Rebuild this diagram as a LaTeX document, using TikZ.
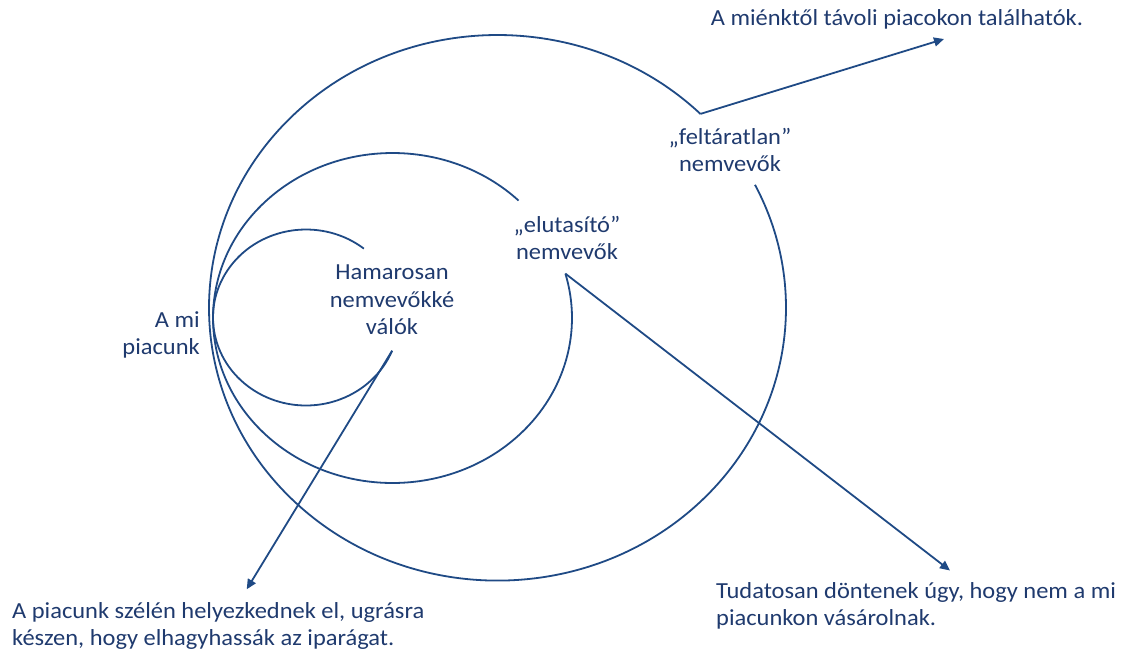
\documentclass[tikz,border=0pt]{standalone}
\usepackage{fontspec}
\setmainfont{Carlito}[FakeStretch=1.063]
\usetikzlibrary{arrows.meta}
\definecolor{ringblue}{HTML}{1F4A85}
\definecolor{labelblue}{HTML}{1F3A6E}
\begin{document}
\begin{tikzpicture}[x=1pt, y=-1pt,
  ring/.style={draw=ringblue, line width=1.8pt},
  pointer/.style={draw=ringblue, line width=1.8pt, -{Triangle[length=10pt,width=9pt]}},
  txt/.style={text=labelblue, font=\fontsize{23}{27.5}\selectfont, inner sep=0pt, align=center},
  txtl/.style={txt, align=left},
  txtr/.style={txt, align=right}]
\useasboundingbox (0,0) rectangle (1127,654);

% centres of the three open rings, all touching at the left
\coordinate (cS) at (306,317.5);
\coordinate (cM) at (392.5,318);
\coordinate (cL) at (497.5,307.8);

% small ring
\draw[ring] (cS) ++(51.5:93pt and 88pt) coordinate (sA)
  arc[start angle=51.5, end angle=337.8, x radius=93pt, y radius=88pt] coordinate (sB);
% middle ring
\draw[ring] (cM) ++(45.4:179.5pt and 165pt) coordinate (mA)
  arc[start angle=45.4, end angle=375.6, x radius=179.5pt, y radius=165pt] coordinate (mB);
% large ring
\draw[ring] (cL) ++(45.3:288.5pt and 272.8pt) coordinate (lA)
  arc[start angle=45.3, end angle=386.8, x radius=288.5pt, y radius=272.8pt] coordinate (lB);

% labels
\node[txtr, anchor=east] (market) at (200,335) {A mi\\piacunk};
\node[txt] (soon) at (392,300) {Hamarosan\\nemvevőkké\\válók};
\node[txt] (reject) at (567,238) {„elutasító”\\nemvevők};
\node[txt] (unexpl) at (730,150) {„feltáratlan”\\nemvevők};
\node[txt] (far) at (897,19) {A miénktől távoli piacokon találhatók.};
\node[txtl, anchor=west] (edge) at (12,626) {A piacunk szélén helyezkednek el, ugrásra\\készen, hogy elhagyhassák az iparágat.};
\node[txtl, anchor=west] (aware) at (716,606) {Tudatosan döntenek úgy, hogy nem a mi\\piacunkon vásárolnak.};

% arrow ends
\coordinate (tipFar) at (944,39);
\coordinate (tipAware) at (950,570.5);
\coordinate (tipEdge) at (246.7,589.3);

% connectors
\draw[pointer] (lA) -- (tipFar);
\draw[pointer] (mB) -- (tipAware);
\draw[pointer] (sB) -- (tipEdge);
\end{tikzpicture}
\end{document}
